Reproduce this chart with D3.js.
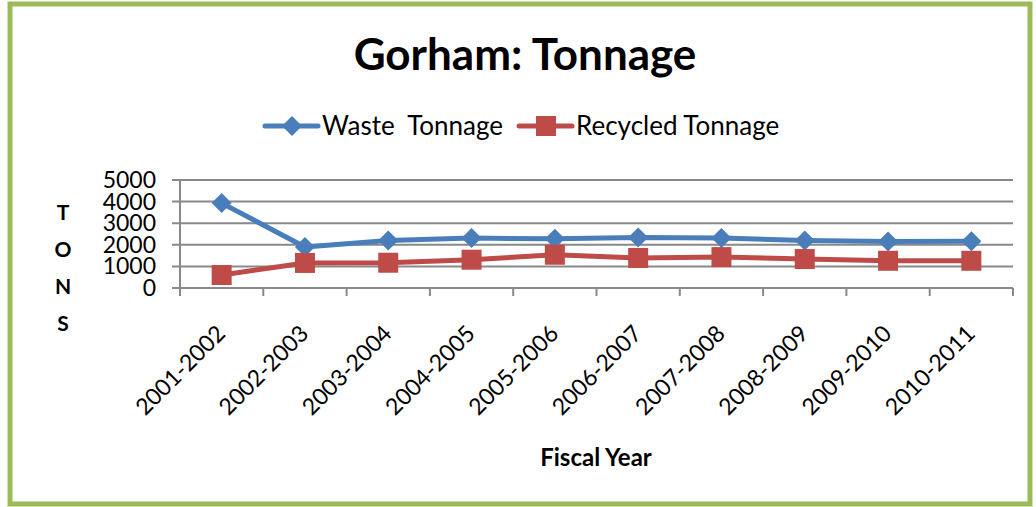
<!DOCTYPE html>
<html>
<head>
<meta charset="utf-8">
<script src="https://cdn.jsdelivr.net/npm/d3@7"></script>
<style>
  body { margin: 0; background: #fff; }
  text { font-family: Lato, "Open Sans", sans-serif; fill: #000; }
</style>
</head>
<body>
<script>
const years = ["2001-2002", "2002-2003", "2003-2004", "2004-2005", "2005-2006",
               "2006-2007", "2007-2008", "2008-2009", "2009-2010", "2010-2011"];
const waste = [3930, 1900, 2200, 2310, 2280, 2340, 2310, 2200, 2150, 2160];
const recycled = [600, 1160, 1170, 1310, 1540, 1390, 1430, 1340, 1260, 1260];
const yTicks = [0, 1000, 2000, 3000, 4000, 5000];

const W = 1036, H = 507;
const plot = {left: 180, right: 1013, top: 180, bottom: 288};

const svg = d3.select("body").append("svg")
    .attr("width", W)
    .attr("height", H);

// green frame
svg.append("rect")
    .attr("x", 10).attr("y", 4)
    .attr("width", 1020).attr("height", 500)
    .attr("fill", "#fff")
    .attr("stroke", "#9BBB59")
    .attr("stroke-width", 5);

const x = d3.scaleBand()
    .domain(years)
    .range([plot.left, plot.right]);

const y = d3.scaleLinear()
    .domain([0, 5000])
    .range([plot.bottom, plot.top]);

// gridlines
svg.append("g")
    .selectAll("line")
    .data(yTicks)
    .enter()
    .append("line")
    .attr("x1", plot.left - 8)
    .attr("x2", plot.right)
    .attr("y1", d => y(d))
    .attr("y2", d => y(d))
    .attr("stroke", "#898989")
    .attr("stroke-width", 2);

// y axis line
svg.append("line")
    .attr("x1", plot.left).attr("x2", plot.left)
    .attr("y1", plot.top).attr("y2", plot.bottom)
    .attr("stroke", "#898989")
    .attr("stroke-width", 2);

// x tick marks
const xTickPos = years.map(d => x(d)).concat([plot.right]);
svg.append("g")
    .selectAll("line")
    .data(xTickPos)
    .enter()
    .append("line")
    .attr("x1", d => d).attr("x2", d => d)
    .attr("y1", plot.bottom).attr("y2", plot.bottom + 8)
    .attr("stroke", "#898989")
    .attr("stroke-width", 2);

// y tick labels
svg.append("g")
    .selectAll("text")
    .data(yTicks)
    .enter()
    .append("text")
    .attr("x", plot.left - 24)
    .attr("y", d => y(d) + 8)
    .attr("text-anchor", "end")
    .attr("font-size", 23)
    .text(d => d);

// x tick labels
svg.append("g")
    .selectAll("text")
    .data(years)
    .enter()
    .append("text")
    .attr("text-anchor", "end")
    .attr("font-size", 23)
    .attr("transform", d => "translate(" + (x(d) + x.bandwidth() / 2 + 5) + "," + (plot.bottom + 47) + ") rotate(-45)")
    .text(d => d);

const cx = d => x(d) + x.bandwidth() / 2;

const series = [
    {name: "Waste  Tonnage", values: waste, color: "#4A7EBB", shape: "diamond"},
    {name: "Recycled Tonnage", values: recycled, color: "#BE4B48", shape: "square"}
];

function marker(g, shape, color) {
    if (shape === "diamond") {
        g.append("path")
            .attr("d", "M0,-10L10,0L0,10L-10,0Z")
            .attr("fill", color);
    } else {
        g.append("rect")
            .attr("x", -10).attr("y", -10)
            .attr("width", 20).attr("height", 20)
            .attr("fill", color);
    }
}

series.forEach(s => {
    const line = d3.line()
        .x((d, i) => cx(years[i]))
        .y(d => y(d));
    svg.append("path")
        .datum(s.values)
        .attr("d", line)
        .attr("fill", "none")
        .attr("stroke", s.color)
        .attr("stroke-width", 5)
        .attr("stroke-linejoin", "round");
    s.values.forEach((v, i) => {
        const g = svg.append("g")
            .attr("transform", "translate(" + cx(years[i]) + "," + y(v) + ")");
        marker(g, s.shape, s.color);
    });
});

// title
svg.append("text")
    .attr("x", 525).attr("y", 70)
    .attr("text-anchor", "middle")
    .attr("font-size", 44)
    .attr("font-weight", "bold")
    .text("Gorham: Tonnage");

// legend
const legendX = [265, 519];
series.forEach((s, i) => {
    const g = svg.append("g")
        .attr("transform", "translate(" + legendX[i] + ",126)");
    g.append("line")
        .attr("x1", 0).attr("x2", 53)
        .attr("stroke", s.color)
        .attr("stroke-width", 5)
        .attr("stroke-linecap", "round");
    const m = g.append("g").attr("transform", "translate(27,0)");
    marker(m, s.shape, s.color);
    g.append("text")
        .attr("x", 57).attr("y", 9)
        .attr("font-size", 26)
        .attr("xml:space", "preserve")
        .style("white-space", "pre")
        .text(s.name);
});

// y axis title, stacked letters
svg.append("g")
    .selectAll("text")
    .data(["T", "O", "N", "S"])
    .enter()
    .append("text")
    .attr("x", 63)
    .attr("y", (d, i) => 220 + i * 37)
    .attr("text-anchor", "middle")
    .attr("font-size", 21)
    .attr("font-weight", "bold")
    .text(d => d);

// x axis title
svg.append("text")
    .attr("x", 596).attr("y", 466)
    .attr("text-anchor", "middle")
    .attr("font-size", 24)
    .attr("font-weight", "bold")
    .text("Fiscal Year");
</script>
</body>
</html>
